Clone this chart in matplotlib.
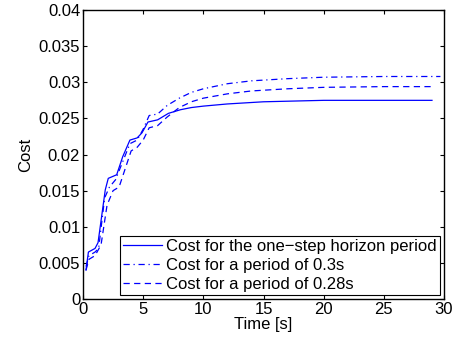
import numpy as np
import matplotlib.pyplot as plt

plt.rcParams['font.family'] = ['Liberation Sans', 'DejaVu Sans']

# one-step horizon period
t_one = [0.25, 0.45, 1.0, 1.25, 1.85, 2.1, 2.8, 3.3, 3.9, 4.5, 4.9, 5.4, 6.2, 7.1, 8.1, 9.0, 10, 12, 15, 20, 29]
c_one = [0.0040, 0.0065, 0.0070, 0.0078, 0.0151, 0.0167, 0.0172, 0.0197, 0.0220, 0.0223, 0.0230, 0.0245,
         0.0248, 0.0257, 0.0262, 0.0265, 0.0267, 0.0270, 0.0273, 0.0275, 0.0275]

# period of 0.3s
t_03 = [0.25, 0.5, 1.0, 1.3, 1.8, 2.2, 2.7, 3.3, 3.9, 4.5, 5.0, 5.5, 6.2, 7.0, 8.0, 9.0, 10, 12, 14, 17, 20, 25, 29.7]
c_03 = [0.0045, 0.0060, 0.0065, 0.0070, 0.0140, 0.0155, 0.0165, 0.0190, 0.0215, 0.0220, 0.0235, 0.0254,
        0.0256, 0.0268, 0.0278, 0.0286, 0.0291, 0.0298, 0.0302, 0.0305, 0.0307, 0.0308, 0.0308]

# period of 0.28s
t_028 = [0.25, 0.5, 1.0, 1.5, 2.0, 2.5, 3.0, 3.5, 4.0, 4.5, 5.0, 5.5, 6.2, 7.0, 8.0, 9.0, 10, 12, 14, 17, 20, 25, 29]
c_028 = [0.0040, 0.0055, 0.0060, 0.0075, 0.0130, 0.0150, 0.0155, 0.0180, 0.0205, 0.0210, 0.0220, 0.0237,
         0.0240, 0.0252, 0.0265, 0.0273, 0.0278, 0.0284, 0.0288, 0.0291, 0.0293, 0.0294, 0.0294]

fig = plt.figure(figsize=(4.57, 3.46), dpi=100)
ax = fig.add_axes([0.1816, 0.1358, 0.79, 0.8352])

ax.plot(t_one, c_one, 'b-', lw=0.9, label='Cost for the one\u2212step horizon period')
ax.plot(t_03, c_03, 'b-.', lw=0.9, dashes=(5, 3, 1, 3), label='Cost for a period of 0.3s')
ax.plot(t_028, c_028, 'b--', lw=0.9, dashes=(5, 3.5), label='Cost for a period of 0.28s')

ax.set_xlim(0, 30)
ax.set_ylim(0, 0.04)
ax.set_xticks([0, 5, 10, 15, 20, 25, 30])
ax.set_yticks([0, 0.005, 0.01, 0.015, 0.02, 0.025, 0.03, 0.035, 0.04])
ax.set_yticklabels(['0', '0.005', '0.01', '0.015', '0.02', '0.025', '0.03', '0.035', '0.04'])
ax.tick_params(direction='in', top=True, right=True, labelsize=12, length=3, pad=2)
for s in ax.spines.values():
    s.set_linewidth(1.0)

ax.set_xlabel('Time [s]', fontsize=12, labelpad=0)
ax.set_ylabel('Cost', fontsize=12, labelpad=4)

leg = ax.legend(loc='lower right', fontsize=12, fancybox=False, framealpha=1,
                edgecolor='black', borderpad=0.2, labelspacing=0.22,
                handlelength=2.3, handletextpad=0.25, borderaxespad=0.25)
leg.get_frame().set_linewidth(0.8)

plt.savefig('out.png', dpi=100)
